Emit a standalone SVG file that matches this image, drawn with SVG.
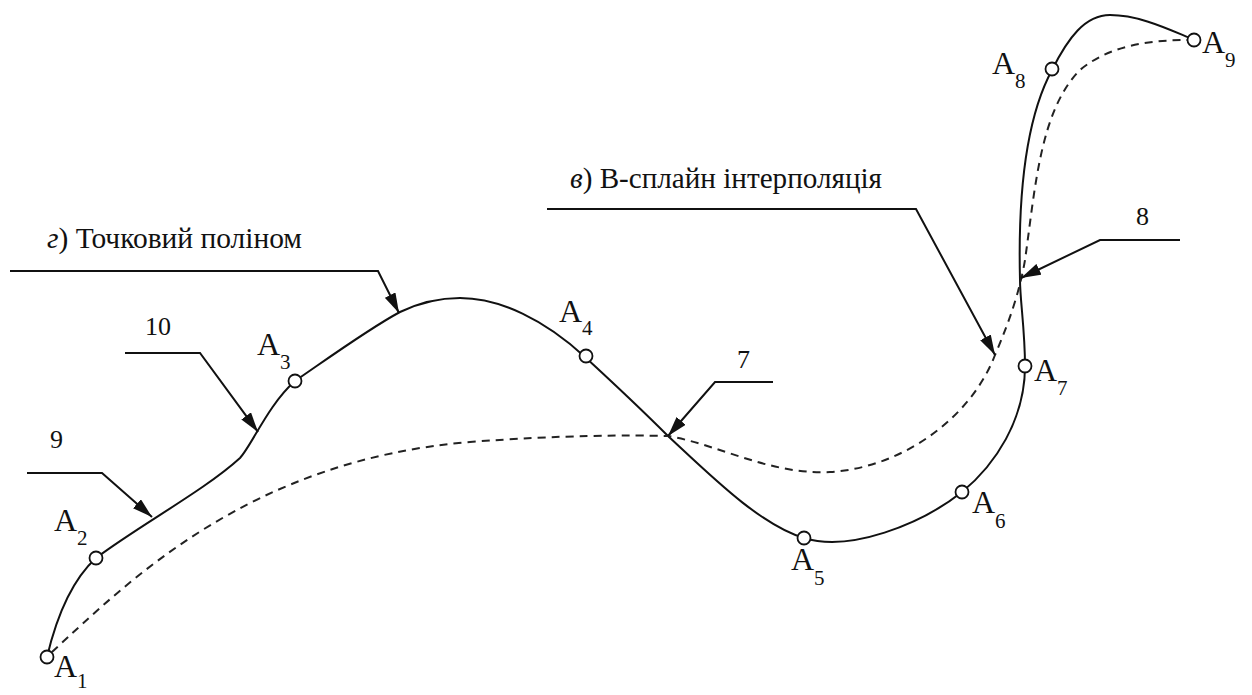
<svg xmlns="http://www.w3.org/2000/svg" width="1252" height="695" viewBox="0 0 1252 695">
<style>
.curve{fill:none;stroke:#111;stroke-width:2}
.dash{fill:none;stroke:#222;stroke-width:2;stroke-dasharray:8,6}
.lead{fill:none;stroke:#111;stroke-width:2}
.pt{fill:#fff;stroke:#111;stroke-width:1.8}
.lbl{font-family:"Liberation Serif","DejaVu Serif",serif;font-size:32px;fill:#111}
.sub{font-size:21px}
.cap{font-family:"Liberation Serif","DejaVu Serif",serif;font-size:30px;fill:#111}
.num{font-family:"Liberation Serif","DejaVu Serif",serif;font-size:26px;fill:#111}
</style>
<defs>
<marker id="ah" viewBox="0 0 20 12" refX="20" refY="6" markerWidth="20" markerHeight="12" markerUnits="userSpaceOnUse" orient="auto">
<path d="M0,0 L20,6 L0,12 Z" fill="#111"/>
</marker>
</defs>
<g id="curves">
<path class="curve" d="M47,657 C57,615 72,580 96,558 C140,525 205,490 240,458 C252,445 268,405 295,381 C330,357 370,328 400,312 C425,300 445,298 460,298 C500,298 545,320 585,357 C610,380 640,408 668,436 C710,475 760,525 804,538 C850,552 920,525 962,492 C995,465 1025,420 1025,366 C1025,330 1020,300 1020,280 C1018,200 1025,120 1052,70 C1068,38 1085,15 1110,15 C1140,15 1170,30 1195,40"/>
<path class="dash" d="M52,652 C130,580 250,460 470,442 C560,435 630,435 668,436 C720,445 770,475 830,472 C900,468 970,420 995,355 C1010,320 1020,290 1025,260 C1035,190 1040,110 1080,70 C1110,45 1150,40 1190,40"/>
</g>
<g id="connectors">
<path class="lead" d="M10,271 L378,271 L399,313" marker-end="url(#ah)"/>
<path class="lead" d="M125,353 L200,353 L258,432" marker-end="url(#ah)"/>
<path class="lead" d="M27,473 L102,473 L152,517" marker-end="url(#ah)"/>
<path class="lead" d="M773,382 L715,382 L668,436" marker-end="url(#ah)"/>
<path class="lead" d="M547,209 L916,209 L995,355" marker-end="url(#ah)"/>
<path class="lead" d="M1180,240 L1100,240 L1021,278" marker-end="url(#ah)"/>
</g>
<g id="A1"><circle class="pt" cx="47" cy="657" r="6.5"/><text class="lbl" x="54" y="677">A<tspan class="sub" dy="11">1</tspan></text></g>
<g id="A2"><circle class="pt" cx="96" cy="558" r="6.5"/><text class="lbl" x="54" y="531">A<tspan class="sub" dy="14">2</tspan></text></g>
<g id="A3"><circle class="pt" cx="295" cy="381" r="6.5"/><text class="lbl" x="257" y="355">A<tspan class="sub" dy="14">3</tspan></text></g>
<g id="A4"><circle class="pt" cx="586" cy="356" r="6.5"/><text class="lbl" x="559" y="322">A<tspan class="sub" dy="13">4</tspan></text></g>
<g id="A5"><circle class="pt" cx="804" cy="538" r="6.5"/><text class="lbl" x="791" y="570">A<tspan class="sub" dy="15">5</tspan></text></g>
<g id="A6"><circle class="pt" cx="962" cy="492" r="6.5"/><text class="lbl" x="972" y="513">A<tspan class="sub" dy="15">6</tspan></text></g>
<g id="A7"><circle class="pt" cx="1025" cy="366" r="6.5"/><text class="lbl" x="1034" y="381">A<tspan class="sub" dy="14">7</tspan></text></g>
<g id="A8"><circle class="pt" cx="1052" cy="69" r="6.5"/><text class="lbl" x="992" y="74">A<tspan class="sub" dy="14">8</tspan></text></g>
<g id="A9"><circle class="pt" cx="1194" cy="40" r="6.5"/><text class="lbl" x="1202" y="53">A<tspan class="sub" dy="14">9</tspan></text></g>
<g id="labels">
<text class="cap" x="47" y="248" textLength="255" lengthAdjust="spacingAndGlyphs"><tspan font-style="italic">г</tspan>) Точковий поліном</text>
<text class="cap" x="570" y="188" textLength="312" lengthAdjust="spacingAndGlyphs"><tspan font-style="italic">в</tspan>) В-сплайн інтерполяція</text>
<text class="num" x="145" y="335">10</text>
<text class="num" x="50" y="448">9</text>
<text class="num" x="737" y="368">7</text>
<text class="num" x="1136" y="225">8</text>
</g>
</svg>
